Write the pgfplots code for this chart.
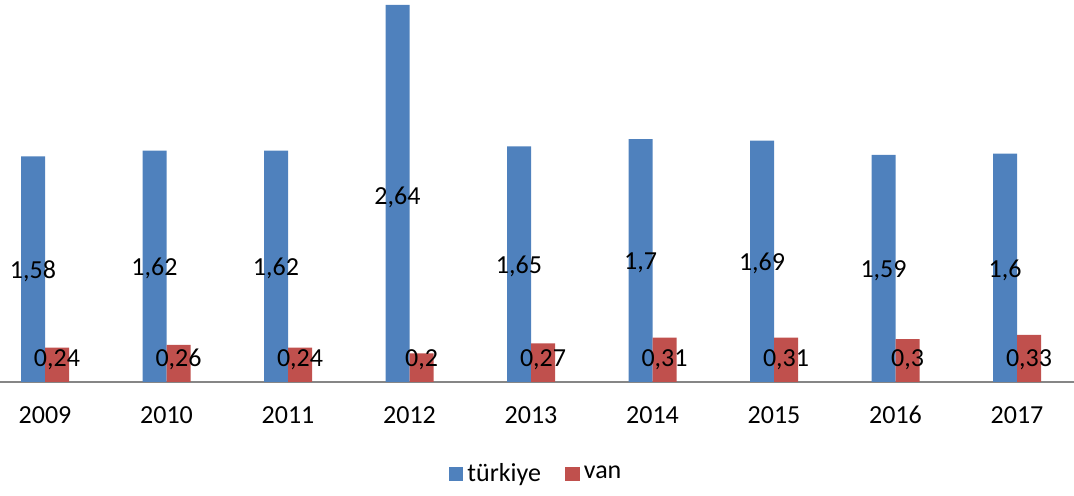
\documentclass[border=0pt]{standalone}
\usepackage{fontspec}
\setmainfont{Carlito}
\usepackage{pgfplots}
\pgfplotsset{compat=1.18}
\definecolor{tblue}{HTML}{4F81BD}
\definecolor{vred}{HTML}{C0504D}
\definecolor{axgray}{HTML}{868686}
\begin{document}
\begin{tikzpicture}
\useasboundingbox (0,-57pt) rectangle (537pt,191pt);
\begin{axis}[
  at={(0,0)}, anchor=south west,
  scale only axis, width=537pt, height=191pt,
  xmin=-0.3704, xmax=8.4691, ymin=0, ymax=2.675,
  hide y axis,
  axis x line*=bottom,
  x axis line style={draw=axgray, line width=0.9pt},
  xtick={0,...,8},
  xticklabels={2009,2010,2011,2012,2013,2014,2015,2016,2017},
  major tick length=0pt,
  xticklabel style={anchor=center, yshift=-16.5pt, font=\fontsize{13}{15}\selectfont},
  clip=false,
  legend style={at={(0.5,-0.2406)}, anchor=center, draw=none, fill=none,
    legend columns=2, font=\fontsize{13}{15}\selectfont,
    /tikz/every even column/.append style={column sep=10pt},
    legend cell align=left},
  legend image code/.code={\fill[#1,draw=none] (0pt,-3.7pt) rectangle (7.4pt,3.7pt);},
  every node near coord/.append style={anchor=center, text=black, font=\fontsize{13}{15}\selectfont},
]
\addplot[ybar, bar width=12pt, bar shift=-6pt, fill=tblue, draw=none] coordinates {
 (0,1.58) (1,1.62) (2,1.62) (3,2.64) (4,1.65) (5,1.7) (6,1.69) (7,1.59) (8,1.6)};
\addlegendentry{türkiye}
\addplot[ybar, bar width=12pt, bar shift=6pt, fill=vred, draw=none] coordinates {
 (0,0.24) (1,0.26) (2,0.24) (3,0.2) (4,0.27) (5,0.31) (6,0.31) (7,0.3) (8,0.33)};
\addlegendentry{van}
\addplot[draw=none, forget plot, nodes near coords, point meta=explicit symbolic]
 table[x expr=\thisrow{x}-0.0988, y=y, meta=l] {
x y l
0 0.775 1,58
1 0.795 1,62
2 0.795 1,62
3 1.29 2,64
4 0.81 1,65
5 0.835 1,7
6 0.83 1,69
7 0.78 1,59
8 0.785 1,6
};
\addplot[draw=none, forget plot, nodes near coords, point meta=explicit symbolic]
 table[x expr=\thisrow{x}+0.0988, y=y, meta=l] {
x y l
0 0.158 0,24
1 0.158 0,26
2 0.158 0,24
3 0.158 0,2
4 0.158 0,27
5 0.158 0,31
6 0.158 0,31
7 0.158 0,3
8 0.158 0,33
};
\end{axis}
\end{tikzpicture}
\end{document}
